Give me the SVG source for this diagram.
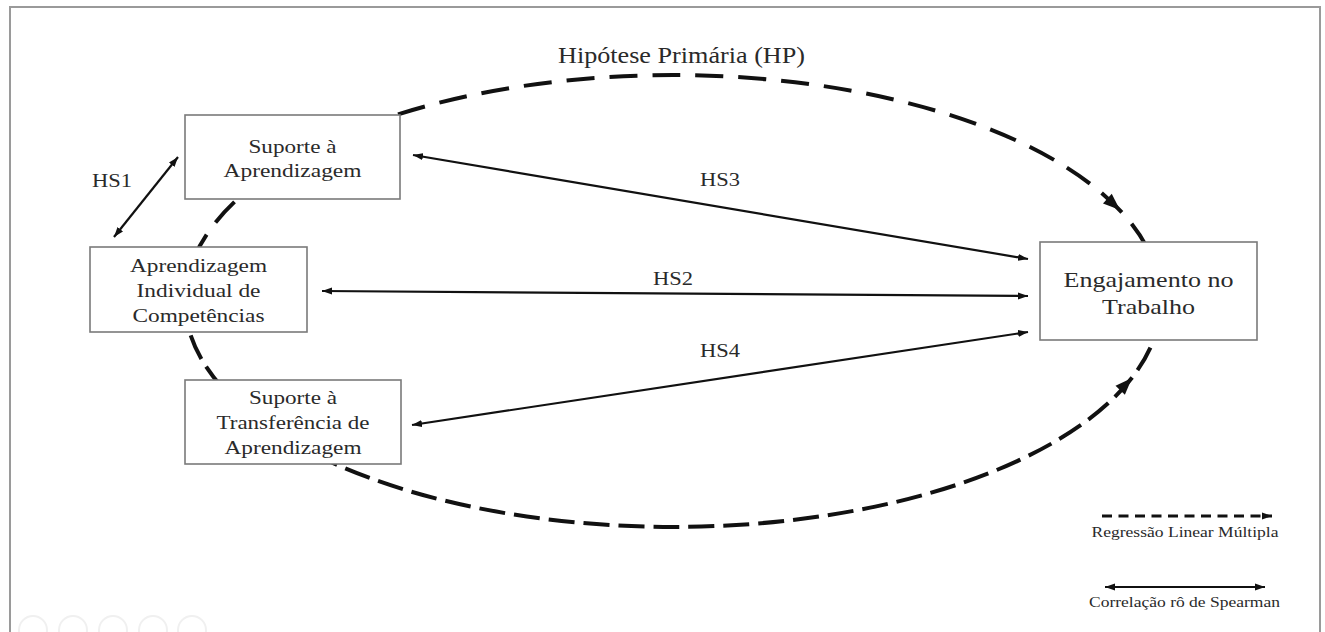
<svg xmlns="http://www.w3.org/2000/svg" width="1325" height="632" viewBox="0 0 1325 632">
<style>
.box{fill:#fff;stroke:#7a7a7a;stroke-width:1.6}
.t{font-family:"Liberation Serif","Times New Roman",serif;fill:#2a2a2a;text-anchor:middle}
.sol{stroke:#111;stroke-width:2.2;fill:none;marker-start:url(#ah);marker-end:url(#ah)}
.dash{stroke:#111;stroke-width:4;fill:none}
</style>
<defs>
<marker id="ah" markerUnits="userSpaceOnUse" markerWidth="11" markerHeight="8" refX="10" refY="4" orient="auto-start-reverse" viewBox="0 0 11 8">
<path d="M0,0.5 L10,4 L0,7.5 z" fill="#111"/>
</marker>
<marker id="lh" markerUnits="userSpaceOnUse" markerWidth="11" markerHeight="8" refX="10" refY="4" orient="auto" viewBox="0 0 11 8">
<path d="M0,0.5 L10,4 L0,7.5 z" fill="#111"/>
</marker>
</defs>
<rect x="0" y="0" width="1325" height="632" fill="#fff"/>
<rect x="10" y="7" width="1310" height="640" fill="none" stroke="#9a9a9a" stroke-width="2"/>
<g id="watermark" fill="none" stroke="#f0f0f0" stroke-width="2">
<circle cx="33" cy="630" r="14"/><circle cx="73" cy="630" r="14"/><circle cx="113" cy="630" r="14"/><circle cx="153" cy="630" r="14"/><circle cx="192" cy="630" r="14"/>
</g>
<g id="connectors">
<path class="dash" d="M185,301 A488,226 0 0 1 1161,301" stroke-dasharray="28 15"/>
<path class="dash" d="M185,301 A488,226 0 0 0 1161,301" stroke-dasharray="26 9"/>
<polygon points="0,0 -17,-6.5 -17,6.5" fill="#111" transform="translate(1120,210) rotate(42)"/>
<polygon points="0,0 -17,-6.5 -17,6.5" fill="#111" transform="translate(1132,378) rotate(-46)"/>
<line class="sol" x1="114" y1="237" x2="178" y2="157"/>
<line class="sol" x1="413" y1="155" x2="1028" y2="259"/>
<line class="sol" x1="322" y1="291" x2="1028" y2="296"/>
<line class="sol" x1="412" y1="425" x2="1028" y2="332"/>
<text class="t" x="112" y="187" font-size="19" textLength="40" lengthAdjust="spacingAndGlyphs">HS1</text>
<text class="t" x="720" y="186" font-size="19" textLength="40" lengthAdjust="spacingAndGlyphs">HS3</text>
<text class="t" x="673" y="285" font-size="19" textLength="40" lengthAdjust="spacingAndGlyphs">HS2</text>
<text class="t" x="720" y="357" font-size="19" textLength="40" lengthAdjust="spacingAndGlyphs">HS4</text>
<text class="t" x="681.5" y="63" font-size="23" textLength="247" lengthAdjust="spacingAndGlyphs">Hipótese Primária (HP)</text>
</g>
<g id="n1">
<rect class="box" x="185" y="115" width="215" height="84"/>
<text class="t" x="292.5" y="153" font-size="19" textLength="88" lengthAdjust="spacingAndGlyphs">Suporte à</text>
<text class="t" x="292.5" y="176.5" font-size="19" textLength="138" lengthAdjust="spacingAndGlyphs">Aprendizagem</text>
</g>
<g id="n2">
<rect class="box" x="90" y="247" width="217" height="85"/>
<text class="t" x="198.5" y="271.5" font-size="19" textLength="137" lengthAdjust="spacingAndGlyphs">Aprendizagem</text>
<text class="t" x="198.5" y="296.5" font-size="19" textLength="124" lengthAdjust="spacingAndGlyphs">Individual de</text>
<text class="t" x="198.5" y="321.5" font-size="19" textLength="132" lengthAdjust="spacingAndGlyphs">Competências</text>
</g>
<g id="n3">
<rect class="box" x="185" y="380" width="216" height="84"/>
<text class="t" x="293" y="404" font-size="19" textLength="88" lengthAdjust="spacingAndGlyphs">Suporte à</text>
<text class="t" x="293" y="429" font-size="19" textLength="153" lengthAdjust="spacingAndGlyphs">Transferência de</text>
<text class="t" x="293" y="454" font-size="19" textLength="137" lengthAdjust="spacingAndGlyphs">Aprendizagem</text>
</g>
<g id="n4">
<rect class="box" x="1040" y="242" width="217" height="98"/>
<text class="t" x="1148.5" y="287" font-size="22" textLength="170" lengthAdjust="spacingAndGlyphs">Engajamento no</text>
<text class="t" x="1148.5" y="314" font-size="22" textLength="93" lengthAdjust="spacingAndGlyphs">Trabalho</text>
</g>
<g id="legend">
<line x1="1102" y1="516" x2="1272" y2="516" stroke="#111" stroke-width="3" stroke-dasharray="10 6.5" marker-end="url(#lh)"/>
<text class="t" x="1185" y="537" font-size="14" textLength="187" lengthAdjust="spacingAndGlyphs">Regressão Linear Múltipla</text>
<line x1="1105" y1="587" x2="1265" y2="587" class="sol" stroke-width="2.5"/>
<text class="t" x="1184.5" y="607" font-size="14" textLength="191" lengthAdjust="spacingAndGlyphs">Correlação rô de Spearman</text>
</g>
</svg>
